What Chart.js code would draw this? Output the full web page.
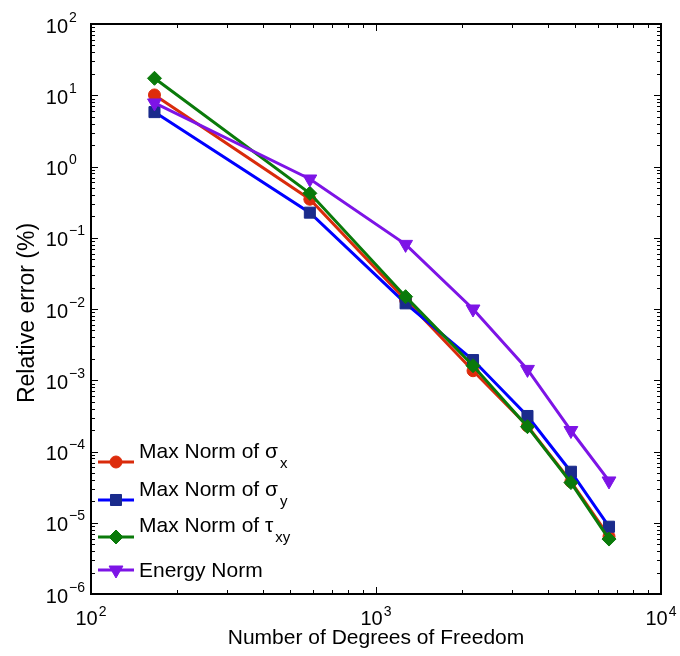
<!DOCTYPE html>
<html>
<head>
<meta charset="utf-8">
<script src="https://cdn.jsdelivr.net/npm/chart.js@4.4.1/dist/chart.umd.min.js"></script>
<style>
  html, body { margin: 0; padding: 0; background: #fff; }
</style>
</head>
<body>
<canvas id="chart" width="680" height="656"></canvas>
<script>
// Number of degrees of freedom (x values)
const dof = [167, 586, 1270, 2190, 3400, 4830, 6570];

// Relative error (%) per series
const maxSigmaX = [10.1, 0.347, 0.0134, 0.00136, 0.000228, 0.0000377, 0.0000064];
const maxSigmaY = [5.8, 0.225, 0.0120, 0.00192, 0.000315, 0.000052, 0.0000088];
const maxTauXY = [17.3, 0.42, 0.0149, 0.0016, 0.000223, 0.0000366, 0.0000059];
const energyNorm = [7.8, 0.668, 0.0807, 0.0100, 0.00142, 0.000197, 0.0000386];

// Decade exponents used for tick labels
const xTickExp = [2, 3, 4];
const yTickExp = [2, 1, 0, -1, -2, -3, -4, -5, -6];

// Legend text: main part + subscript
const legendMain = ["Max Norm of \u03c3", "Max Norm of \u03c3", "Max Norm of \u03c4", "Energy Norm"];
const legendSub = ["x", "y", "xy", ""];

const FONT = "'Liberation Sans', Arial, Helvetica, sans-serif";

function pts(ys) {
  return dof.map((x, i) => ({ x: x, y: ys[i] }));
}

function series(label, ys, line, fill, style, radius, rotation, order) {
  return {
    label: label,
    data: pts(ys),
    borderColor: line,
    backgroundColor: fill,
    borderWidth: 3,
    pointStyle: style,
    pointRadius: radius,
    pointRotation: rotation,
    pointBackgroundColor: fill,
    pointBorderColor: fill,
    pointBorderWidth: 1,
    tension: 0,
    order: order,
  };
}

const datasets = [
  series(legendMain[0] + legendSub[0], maxSigmaX, "#d92b0b", "#dd2c0c", "circle", 6, 0, 4),
  series(legendMain[1] + legendSub[1], maxSigmaY, "#0000ff", "#1a2b8c", "rect", 7.8, 0, 3),
  series(legendMain[2] + legendSub[2], maxTauXY, "#0a7a0a", "#0a7a0a", "rectRot", 7, 0, 2),
  series(legendMain[3] + legendSub[3], energyNorm, "#7d14e6", "#7d14e6", "triangle", 8, 180, 1),
];

// Superscript power label "10^e"
function drawPow(ctx, e, x, baseY, mode) {
  const exp = e < 0 ? "\u2212" + Math.abs(e) : String(e);
  ctx.font = "20px " + FONT;
  const w10 = ctx.measureText("10").width;
  ctx.font = "14px " + FONT;
  const wExp = ctx.measureText(exp).width;
  let x0;
  if (mode === "y") {
    x0 = x - w10;
  } else {
    x0 = x - (w10 + 1 + wExp) / 2;
  }
  ctx.textAlign = "left";
  ctx.textBaseline = "alphabetic";
  ctx.font = "20px " + FONT;
  ctx.fillText("10", x0, baseY);
  ctx.font = "14px " + FONT;
  ctx.fillText(exp, x0 + w10 + 1, baseY - (mode === "y" ? 11 : 9));
}

const axesPlugin = {
  id: "matlabAxes",
  beforeDatasetsDraw(chart) {
    const ctx = chart.ctx;
    const a = chart.chartArea;
    const xs = chart.scales.x;
    const ys = chart.scales.y;
    ctx.save();
    ctx.strokeStyle = "#000";
    ctx.fillStyle = "#000";

    // inward ticks on all four sides
    ctx.lineWidth = 1;
    ctx.beginPath();
    for (let e = 2; e <= 4; e++) {
      for (let m = 1; m <= 9; m++) {
        if (e === 4 && m > 1) break;
        const px = Math.round(xs.getPixelForValue(m * Math.pow(10, e))) + 0.5;
        const len = m === 1 ? 7 : 4;
        ctx.moveTo(px, a.bottom);
        ctx.lineTo(px, a.bottom - len);
        ctx.moveTo(px, a.top);
        ctx.lineTo(px, a.top + len);
      }
    }
    for (let e = -6; e <= 2; e++) {
      for (let m = 1; m <= 9; m++) {
        if (e === 2 && m > 1) break;
        const py = Math.round(ys.getPixelForValue(m * Math.pow(10, e))) + 0.5;
        const len = m === 1 ? 7 : 4;
        ctx.moveTo(a.left, py);
        ctx.lineTo(a.left + len, py);
        ctx.moveTo(a.right, py);
        ctx.lineTo(a.right - len, py);
      }
    }
    ctx.stroke();

    // box
    ctx.lineWidth = 2;
    ctx.strokeRect(a.left, a.top, a.right - a.left, a.bottom - a.top);

    // tick labels
    xTickExp.forEach((e) => {
      drawPow(ctx, e, xs.getPixelForValue(Math.pow(10, e)), a.bottom + 31, "x");
    });
    yTickExp.forEach((e) => {
      drawPow(ctx, e, a.left - 23, ys.getPixelForValue(Math.pow(10, e)) + 8.5, "y");
    });

    // axis titles
    ctx.font = "21px " + FONT;
    ctx.textAlign = "center";
    ctx.textBaseline = "alphabetic";
    ctx.fillText("Number of Degrees of Freedom", (a.left + a.right) / 2, 644);
    ctx.save();
    ctx.translate(34, 313);
    ctx.rotate(-Math.PI / 2);
    ctx.font = "23px " + FONT;
    ctx.fillText("Relative error (%)", 0, 0);
    ctx.restore();
    ctx.restore();
  },
  afterDraw(chart) {
    const ctx = chart.ctx;
    const rows = [462, 500, 537, 570];
    const baselines = [458, 496, 532, 577];
    ctx.save();
    chart.data.datasets.forEach((ds, i) => {
      const y = rows[i];
      ctx.strokeStyle = ds.borderColor;
      ctx.lineWidth = 3;
      ctx.beginPath();
      ctx.moveTo(98, y);
      ctx.lineTo(134, y);
      ctx.stroke();
      ctx.fillStyle = ds.pointBackgroundColor;
      ctx.strokeStyle = ds.pointBorderColor;
      ctx.lineWidth = 1;
      Chart.helpers.drawPoint(ctx, {
        pointStyle: ds.pointStyle,
        rotation: ds.pointRotation,
        radius: ds.pointRadius,
        borderWidth: 1,
      }, 116, y);

      ctx.fillStyle = "#000";
      ctx.textAlign = "left";
      ctx.textBaseline = "alphabetic";
      ctx.font = "21px " + FONT;
      ctx.fillText(legendMain[i], 139, baselines[i]);
      const w = ctx.measureText(legendMain[i]).width;
      if (legendSub[i]) {
        ctx.font = "15px " + FONT;
        ctx.fillText(legendSub[i], 139 + w + 2, baselines[i] + 10);
      }
    });
    ctx.restore();
  },
};

new Chart(document.getElementById("chart"), {
  type: "line",
  data: { datasets: datasets },
  options: {
    responsive: false,
    animation: false,
    devicePixelRatio: 1,
    layout: { padding: { left: 91, right: 19, top: 24, bottom: 62 } },
    scales: {
      x: { type: "logarithmic", min: 100, max: 10000, display: false },
      y: { type: "logarithmic", min: 1e-6, max: 100, display: false },
    },
    plugins: {
      legend: { display: false },
      tooltip: { enabled: false },
    },
  },
  plugins: [axesPlugin],
});
</script>
</body>
</html>
